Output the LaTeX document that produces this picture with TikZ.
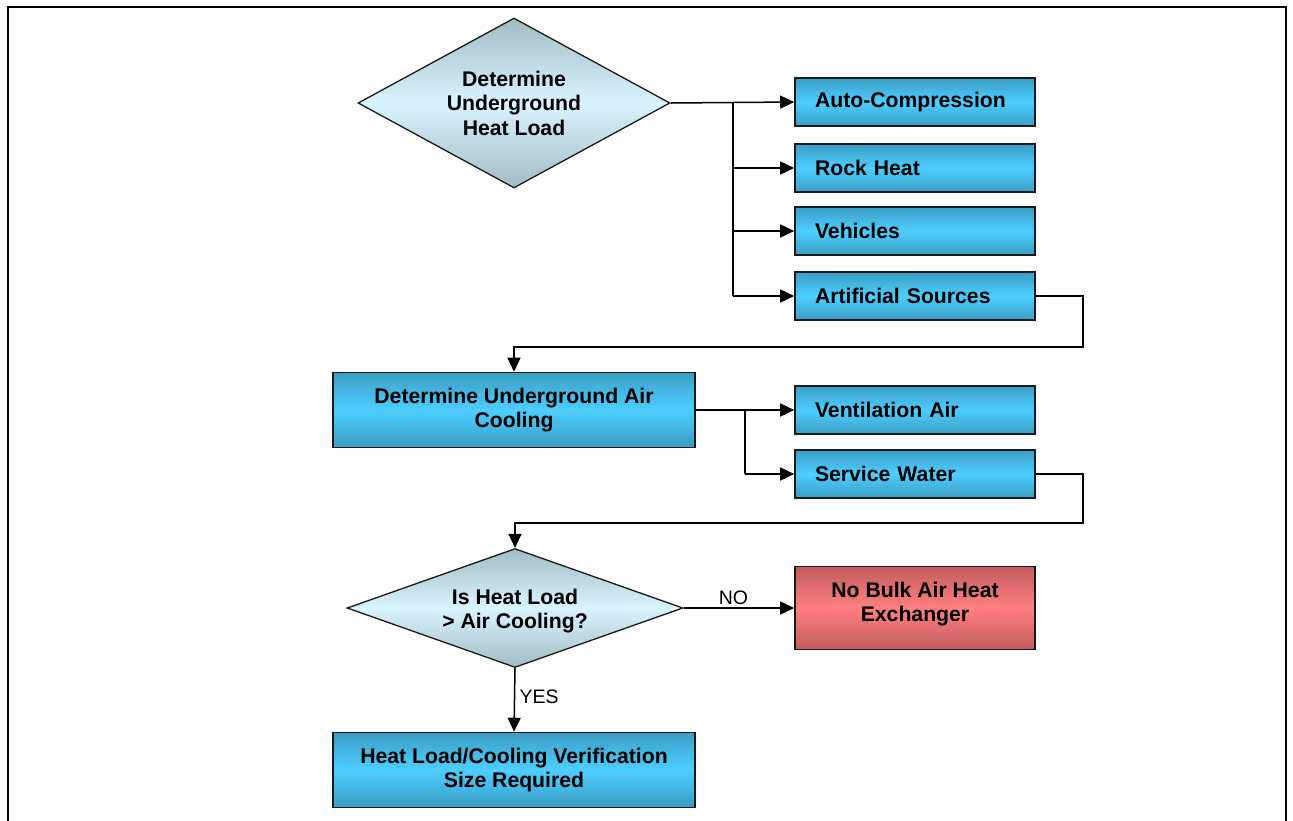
\documentclass[tikz,border=0pt]{standalone}
\usepackage{fontspec}
\setmainfont{Liberation Sans}
\usetikzlibrary{shapes.geometric,arrows.meta}

\definecolor{boxedge}{HTML}{3A9EC4}
\definecolor{boxmid}{HTML}{4DCEFF}
\definecolor{decedge}{HTML}{A3BCC4}
\definecolor{decmid}{HTML}{D8F4FC}
\definecolor{redge}{HTML}{C25C5C}
\definecolor{redmid}{HTML}{FF8080}
\definecolor{outline}{HTML}{1A1A1A}

\tikzset{
  lbl/.style={font=\bfseries\fontsize{21.2}{24.5}\selectfont},
  procbox/.style={rectangle, draw=outline, line width=1.6pt, lbl,
    top color=boxedge, bottom color=boxedge, middle color=boxmid,
    minimum width=240, minimum height=48, inner sep=0pt},
  sidebox/.style={procbox, text width=200, align=left},
  widebox/.style={procbox, minimum width=362, minimum height=75, align=center},
  stopbox/.style={procbox, minimum width=240, minimum height=83,
    top color=redge, bottom color=redge, middle color=redmid},
  decision/.style={diamond, draw=outline, line width=1.3pt,
    top color=decedge, bottom color=decedge, middle color=decmid,
    inner sep=0pt},
  inlabel/.style={label={[lbl, align=center]center:#1}},
  link/.style={line width=1.5pt, draw=black},
  arr/.style={link, -{Triangle[length=14pt,width=13pt]}},
  tag/.style={font=\fontsize{19.5}{22}\selectfont}
}

\begin{document}
\begin{tikzpicture}[x=1pt,y=-1pt]
  \useasboundingbox (0,0) rectangle (1293,820);
  % page frame, open at the bottom
  \draw[line width=2pt] (8,821) -- (8,7) -- (1286,7) -- (1286,821);

  % heat load sources
  \node[decision, minimum width=312, minimum height=170,
    inlabel={Determine\\Underground\\Heat Load}] (load) at (514,103) {};
  \node[sidebox] (auto) at (915,102) {Auto-Compression};
  \node[sidebox] (rock) at (915,168) {Rock Heat};
  \node[sidebox] (veh)  at (915,231) {Vehicles};
  \node[sidebox] (art)  at (915,296) {Artificial Sources};

  % air cooling sources
  \node[widebox] (cool) at (514,410) {Determine Underground Air\\Cooling};
  \node[sidebox] (vent) at (915,410) {Ventilation Air};
  \node[sidebox] (serv) at (915,474) {Service Water};

  % comparison and outcomes
  \node[decision, minimum width=336, minimum height=119,
    label={[lbl, align=center, yshift=-3pt]center:Is Heat Load\\> Air Cooling?}]
    (cmp) at (515,608) {};
  \node[stopbox, label={[lbl, align=center, yshift=4pt]center:No Bulk Air Heat\\Exchanger}]
    (nobulk) at (915,608) {};
  \node[widebox] (size) at (514,770) {Heat Load/Cooling Verification\\Size Required};

  % helper points for the elbow routes
  \coordinate (t1) at (733,102);
  \coordinate (r1) at (1083,347);
  \coordinate (t2) at (745,410);
  \coordinate (r2) at (1083,523);

  % heat load fan-out
  \draw[arr] (load.east) -- (auto.west);
  \draw[link] (t1) -- (t1 |- art.west);
  \draw[arr] (t1 |- rock.west) -- (rock.west);
  \draw[arr] (t1 |- veh.west) -- (veh.west);
  \draw[arr] (t1 |- art.west) -- (art.west);
  \draw[arr] (art.east) -| (r1) -| (cool.north);

  % air cooling fan-out
  \draw[arr] (cool.east) -- (vent.west);
  \draw[link] (t2) -- (t2 |- serv.west);
  \draw[arr] (t2 |- serv.west) -- (serv.west);
  \draw[arr] (serv.east) -| (r2) -| (cmp.north);

  % decision outcomes
  \draw[arr] (cmp.east) -- node[tag, above, pos=0.45, yshift=-1pt] {NO} (nobulk.west);
  \draw[arr] (cmp.south) -- node[tag, right, pos=0.45, xshift=1pt] {YES} (size.north);
\end{tikzpicture}
\end{document}
